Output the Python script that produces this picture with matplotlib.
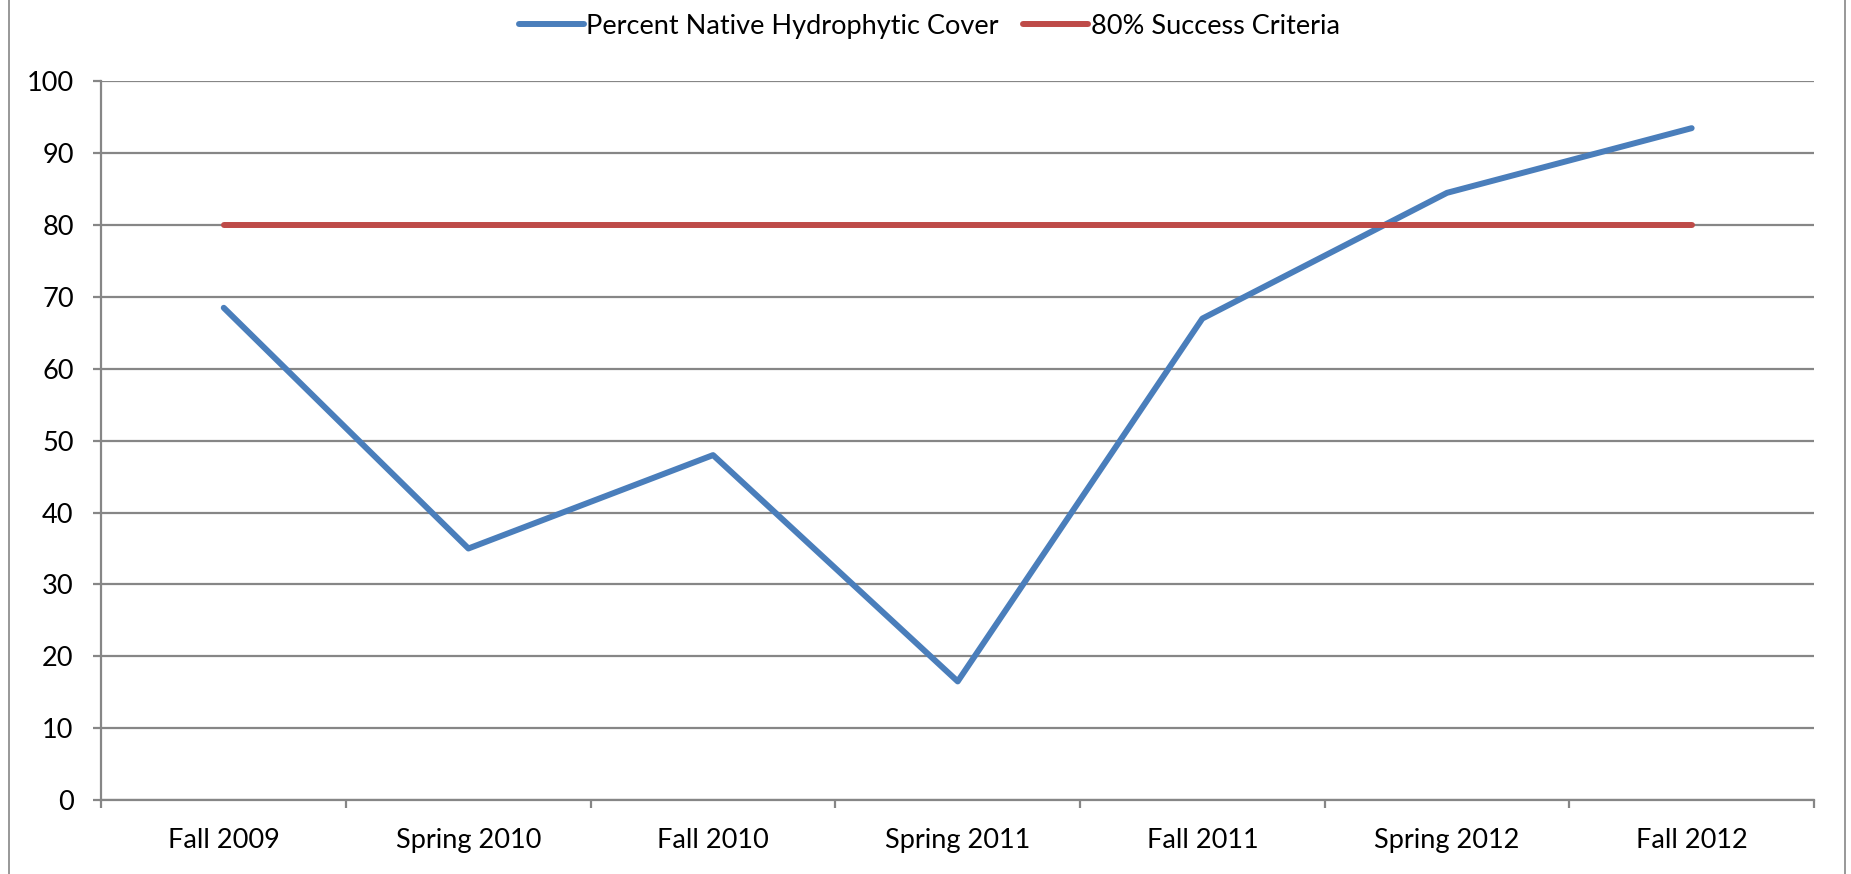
import numpy as np
import matplotlib
matplotlib.use("Agg")
from matplotlib import pyplot as plt
from matplotlib.lines import Line2D

seasons = ['Fall 2009', 'Spring 2010', 'Fall 2010', 'Spring 2011',
           'Fall 2011', 'Spring 2012', 'Fall 2012']
native_cover = [68.5, 35, 48, 16.5, 67, 84.5, 93.5]
success_criteria = [80, 80, 80, 80, 80, 80, 80]

plt.rcParams['font.family'] = ['Lato', 'DejaVu Sans']

grid_col = '#868686'
fs = 19.5
fig = plt.figure(figsize=(18.51, 8.74), dpi=100)
ax = fig.add_axes([0.0548, 0.0847, 0.9252, 0.8221])

x = np.arange(len(seasons))
ax.plot(x, native_cover, color='#4A7EBB', lw=4.3, solid_capstyle='round',
        label='Percent Native Hydrophytic Cover')
ax.plot(x, success_criteria, color='#BE4B48', lw=4.3, solid_capstyle='round',
        label='80% Success Criteria')

ax.set_xlim(-0.5, len(seasons) - 0.5)
ax.set_ylim(0, 100)
ax.set_yticks(np.arange(0, 101, 10))
ax.yaxis.grid(True, color=grid_col, lw=1.6)
ax.set_axisbelow(True)

ax.set_xticks(x)
ax.set_xticklabels(seasons)
ax.set_xticks(np.arange(-0.5, len(seasons), 1), minor=True)
ax.tick_params(axis='x', which='major', length=0, pad=20, labelsize=fs)
ax.tick_params(axis='x', which='minor', length=6, width=1.6, color=grid_col)
ax.tick_params(axis='y', length=6, width=1.6, color=grid_col, pad=14, labelsize=fs)

for s in ['top', 'right']:
    ax.spines[s].set_visible(False)
for s in ['left', 'bottom']:
    ax.spines[s].set_color(grid_col)
    ax.spines[s].set_linewidth(1.6)

fig.legend(loc='upper center', bbox_to_anchor=(0.502, 1.012), ncol=2, frameon=False,
           fontsize=fs, handlelength=2.4, handletextpad=0.1, columnspacing=0.9)

# outer chart border (only the sides are in view)
fig.add_artist(Line2D([0.005, 0.005], [0, 1], transform=fig.transFigure, color=grid_col, lw=1.2))
fig.add_artist(Line2D([0.9965, 0.9965], [0, 1], transform=fig.transFigure, color=grid_col, lw=1.2))

fig.savefig('out.png', dpi=100)
